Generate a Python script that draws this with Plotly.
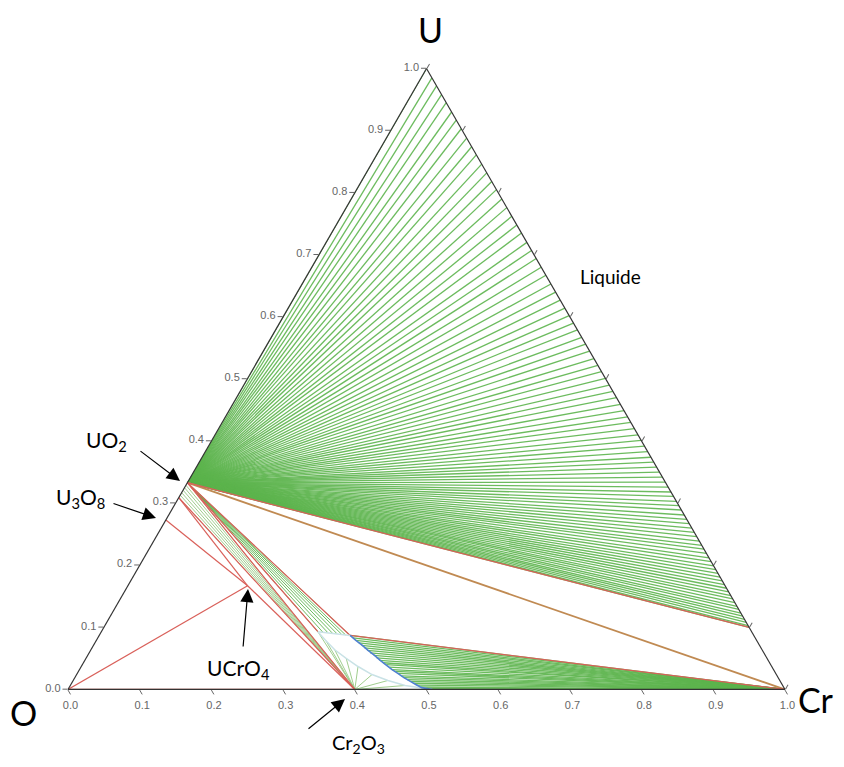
import plotly.graph_objects as go

# ==========================================
# Compositions, as (U, O, Cr) fractions
# ==========================================
PTS = {
    "O": (0.0, 1.0, 0.0),
    "U3O8": (0.273, 0.727, 0.0),
    "UO2x": (0.309, 0.691, 0.0),
    "UO2": (0.333, 0.667, 0.0),
    "UCrO4": (0.167, 0.666, 0.167),
    "Cr2O3": (0.0, 0.6, 0.4),
    "Lox_a": (0.093, 0.605, 0.302),
    "Lox_b": (0.087, 0.563, 0.350),
    "Lmet": (0.10, 0.0, 0.90),
    "Cr": (0.0, 0.0, 1.0),
}

# three-phase triangle edges (red)
RED_EDGES = [
    ("O", "UCrO4"), ("U3O8", "UCrO4"), ("UO2x", "UCrO4"), ("UCrO4", "Cr2O3"),
    ("UO2x", "Cr2O3"), ("UO2", "Cr2O3"), ("UO2", "Lox_a"), ("UO2", "Lox_b"),
    ("Lox_b", "Cr"), ("UO2", "Lmet"), ("O", "Cr2O3"),
]

# UO2 + liquid metal: U fraction of the liquid on the U-Cr side
LIQ_U = [
    1.0, 0.985, 0.972, 0.958, 0.945, 0.93, 0.917, 0.903, 0.888, 0.874,
    0.861, 0.846, 0.832, 0.818, 0.805, 0.79, 0.776, 0.762, 0.748, 0.735,
    0.72, 0.707, 0.694, 0.68, 0.667, 0.653, 0.64, 0.627, 0.614, 0.602,
    0.59, 0.579, 0.567, 0.556, 0.545, 0.533, 0.522, 0.512, 0.501, 0.49,
    0.48, 0.47, 0.459, 0.449, 0.439, 0.43, 0.42, 0.41, 0.401, 0.392,
    0.383, 0.374, 0.366, 0.358, 0.35, 0.342, 0.334, 0.326, 0.318, 0.311,
    0.303, 0.296, 0.289, 0.281, 0.274, 0.267, 0.26, 0.253, 0.246, 0.239,
    0.232, 0.226, 0.219, 0.212, 0.206, 0.199, 0.193, 0.187, 0.181, 0.175,
    0.169, 0.163, 0.157, 0.151, 0.146, 0.14, 0.134, 0.129, 0.123, 0.118,
    0.113, 0.108, 0.103, 0.1,
]

# UO2(+x) + Cr2O3: U fraction of the oxide on the U-O side
UO2X_U = [0.309, 0.313, 0.317, 0.321, 0.325, 0.329, 0.333]

# UO2 + oxide liquid: liquid compositions (U, Cr)
LOX_TOP_U = [0.093, 0.0925, 0.092, 0.091, 0.090, 0.089, 0.088, 0.087]
LOX_TOP_CR = [0.302, 0.309, 0.316, 0.323, 0.330, 0.337, 0.343, 0.350]

# oxide liquid boundary towards Cr2O3 (pale) and towards Cr (blue)
ARC_U = [0.093, 0.079, 0.064, 0.050, 0.037, 0.024, 0.0145, 0.0064, 0.0]
ARC_CR = [0.302, 0.320, 0.340, 0.363, 0.386, 0.412, 0.439, 0.467, 0.508]
BLUE_U = [0.087, 0.079, 0.071, 0.063, 0.055, 0.047, 0.040, 0.032, 0.026,
          0.019, 0.013, 0.008, 0.003, 0.0]
BLUE_CR = [0.350, 0.362, 0.375, 0.387, 0.400, 0.412, 0.423, 0.436, 0.447,
           0.459, 0.471, 0.481, 0.492, 0.508]

# Cr + oxide liquid tie lines, liquid end (U, Cr)
CRTIE_U = [0.087, 0.083, 0.079, 0.075, 0.071, 0.067, 0.063, 0.059, 0.055,
           0.051, 0.047, 0.043, 0.040, 0.036, 0.032, 0.029, 0.026, 0.022,
           0.019, 0.016, 0.013, 0.010, 0.007, 0.004, 0.002, 0.0]
CRTIE_CR = [0.350, 0.356, 0.362, 0.368, 0.374, 0.380, 0.386, 0.392, 0.399,
            0.405, 0.411, 0.418, 0.424, 0.430, 0.436, 0.442, 0.447, 0.454,
            0.459, 0.465, 0.471, 0.477, 0.483, 0.490, 0.495, 0.508]

TICKS = [0.0, 0.1, 0.2, 0.3, 0.4, 0.5, 0.6, 0.7, 0.8, 0.9, 1.0]
TICK_TEXT = ["0.0", "0.1", "0.2", "0.3", "0.4", "0.5", "0.6", "0.7", "0.8", "0.9", "1.0"]

GREEN = "rgba(92,180,76,0.9)"
PALE_GREEN = "rgba(150,200,130,0.9)"
RED = "#d9605a"
BLUE = "#4f80d2"
PALE = "#c9e2e6"

# the page body keeps an 8 px margin, so the plot area is 828 x 751
OFF = 8
W, H = 828, 751


def fan(origin, ends_u, ends_cr):
    a, b, c = [], [], []
    for u, cr in zip(ends_u, ends_cr):
        a += [origin[0], u, None]
        b += [origin[1], 1 - u - cr, None]
        c += [origin[2], cr, None]
    return a, b, c


def segs(pairs):
    a, b, c = [], [], []
    for p, q in pairs:
        a += [PTS[p][0], PTS[q][0], None]
        b += [PTS[p][1], PTS[q][1], None]
        c += [PTS[p][2], PTS[q][2], None]
    return a, b, c


def curve(us, crs):
    return list(us), [1 - u - cr for u, cr in zip(us, crs)], list(crs)


def add(fig, abc, color, width):
    a, b, c = abc
    fig.add_trace(go.Scatterternary(
        a=a, b=b, c=c, mode="lines",
        line=dict(color=color, width=width),
        hoverinfo="skip", showlegend=False))


fig = go.Figure()

# tie lines
add(fig, fan(PTS["UO2"], LIQ_U, [1 - u for u in LIQ_U]), GREEN, 1.3)
add(fig, fan(PTS["UO2"], LOX_TOP_U, LOX_TOP_CR), GREEN, 1)
uo2x_fan = ([], [], [])
for u in UO2X_U:
    uo2x_fan[0].extend([u, 0.0, None])
    uo2x_fan[1].extend([1 - u, 0.6, None])
    uo2x_fan[2].extend([0.0, 0.4, None])
add(fig, uo2x_fan, PALE_GREEN, 1)
add(fig, fan(PTS["Cr2O3"], ARC_U, ARC_CR), PALE_GREEN, 1)
add(fig, fan(PTS["Cr"], CRTIE_U, CRTIE_CR), GREEN, 1.3)

# UO2 - Cr tie line (overlapping red/green)
add(fig, segs([("UO2", "Cr")]), "#c08a52", 1.8)

# three-phase triangles
add(fig, segs(RED_EDGES), RED, 1.2)

# oxide liquid boundaries
add(fig, curve(ARC_U, ARC_CR), PALE, 1.5)
add(fig, curve([0.093, 0.087], [0.302, 0.350]), PALE, 1.5)
add(fig, curve(BLUE_U, BLUE_CR), BLUE, 1.6)

tickfont = dict(family="Liberation Sans, Arial", size=11, color="#666666")
axis_common = dict(
    title=dict(text=""),
    showgrid=False, showline=True, linecolor="#333333", linewidth=1.2,
    ticks="outside", ticklen=5, tickcolor="#666666", tickwidth=1,
    tickfont=tickfont, tickmode="array", tickvals=TICKS,
)


def px(x, y):
    return (x - OFF) / W, 1 - (y - OFF) / H


x0, y0 = px(68, 690)
x1, y1 = px(785, 68)

fig.update_layout(
    margin=dict(l=0, r=0, t=0, b=0),
    paper_bgcolor="white",
    showlegend=False,
    ternary=dict(
        sum=1,
        bgcolor="white",
        domain=dict(x=[x0, x1], y=[y0, y1]),
        aaxis=dict(**axis_common, ticktext=TICK_TEXT),
        baxis=dict(**axis_common, ticktext=TICK_TEXT[::-1]),
        caxis=dict(**axis_common, ticktext=TICK_TEXT, showticklabels=False),
    ),
)

label_font = dict(family="Lato, Open Sans, sans-serif", color="black")

corner_labels = [("U", 430, 29), ("O", 23, 712), ("Cr", 816, 699)]
for text, x, y in corner_labels:
    xx, yy = px(x, y)
    fig.add_annotation(x=xx, y=yy, xref="paper", yref="paper", text=text,
                       xanchor="center", yanchor="middle",
                       showarrow=False, font=dict(**label_font, size=34))

phase_labels = [
    ("Liquide", 610, 276, 19),
    ("UO<sub>2</sub>", 106, 441, 21),
    ("U<sub>3</sub>O<sub>8</sub>", 80, 498, 21),
    ("UCrO<sub>4</sub>", 238, 669, 21),
    ("Cr<sub>2</sub>O<sub>3</sub>", 358, 743, 20),
]
for text, x, y, s in phase_labels:
    xx, yy = px(x, y)
    fig.add_annotation(x=xx, y=yy, xref="paper", yref="paper", text=text,
                       xanchor="center", yanchor="middle",
                       showarrow=False, font=dict(**label_font, size=s))

arrows = [
    (139, 450, 180, 481),
    (112, 503, 156, 518),
    (243, 648, 248, 589),
    (307, 730, 345, 699),
]
for xa, ya, xb, yb in arrows:
    xx, yy = px(xb, yb)
    fig.add_annotation(x=xx, y=yy, xref="paper", yref="paper", text="",
                       showarrow=True, ax=xa - xb, ay=ya - yb,
                       arrowhead=2, arrowsize=2.2, arrowwidth=1.2,
                       arrowcolor="black")

fig.write_html("out.html")
